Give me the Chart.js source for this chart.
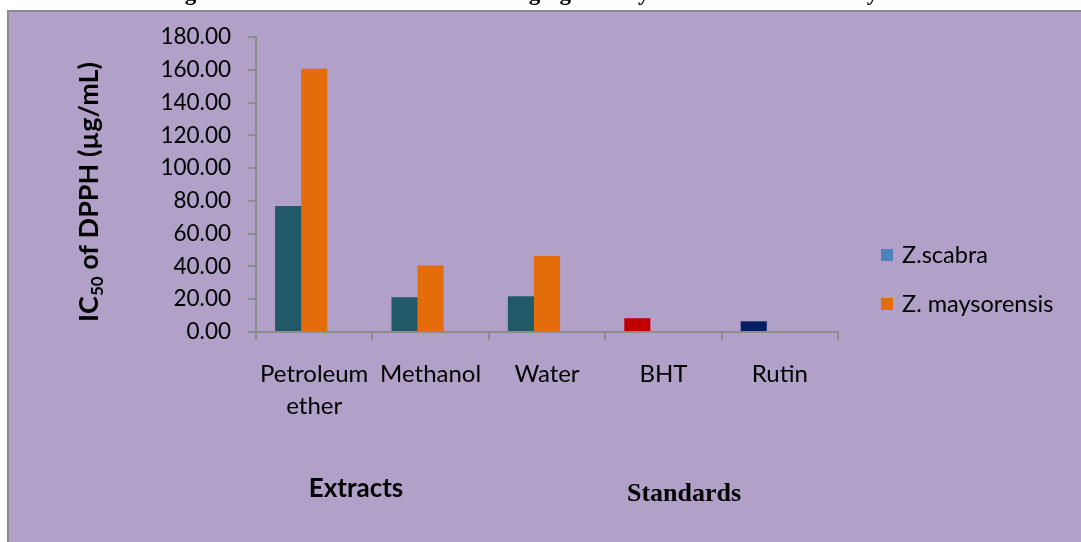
<!DOCTYPE html>
<html>
<head>
<meta charset="utf-8">
<script src="https://cdn.jsdelivr.net/npm/chart.js@4.4.1/dist/chart.umd.min.js"></script>
<style>
  html, body { margin: 0; padding: 0; background: #ffffff; }
  #wrap { position: relative; width: 1081px; height: 542px; }
  canvas { display: block; }
</style>
</head>
<body>
<div id="wrap"><canvas id="c" width="1081" height="542"></canvas></div>
<script>
// Categories (extracts first, then reference standards)
const categories = [['Petroleum', 'ether'], 'Methanol', 'Water', 'BHT', 'Rutin'];

// IC50 values (µg/mL)
const zScabra = [76.9, 21.2, 21.8, 8.4, 6.5];
const zMaysorensis = [160.6, 40.6, 46.3, null, null];
// empty third slot in each group (keeps the Excel-style group spacing)
const emptySlot = [null, null, null, null, null];

const seriesNames = ['Z.scabra', 'Z. maysorensis'];
const legendColors = ['#4F81BD', '#E46C0A'];
const scabraBarColors = ['#215968', '#215968', '#215968', '#C00000', '#002060'];

const yTicks = [0, 20, 40, 60, 80, 100, 120, 140, 160, 180];

const docTitle = 'Figure 4.1: DPPH free radical scavenging activity of Z.scabra and Z.maysorensis';
const groupLabels = ['Extracts', 'Standards'];

const AXIS_GREY = '#8C8C8C';
const PANEL = '#B1A0C7';

// page background, panel and frame, plus the caption line running off the top edge
const backdrop = {
  id: 'backdrop',
  beforeDraw(chart) {
    const ctx = chart.ctx;
    ctx.save();
    ctx.fillStyle = '#ffffff';
    ctx.fillRect(0, 0, chart.width, chart.height);
    ctx.fillStyle = '#000000';
    ctx.font = 'bold 23px "Liberation Serif", "DejaVu Serif", serif';
    ctx.textAlign = 'center';
    ctx.textBaseline = 'alphabetic';
    ctx.fillText(docTitle, 560, 0);
    ctx.fillStyle = PANEL;
    ctx.fillRect(8, 10, chart.width - 8, chart.height - 10);
    ctx.fillStyle = AXIS_GREY;
    ctx.fillRect(7, 10, chart.width - 7, 2);
    ctx.fillRect(7, 10, 2, chart.height - 10);
    ctx.restore();
  }
};

// y title with subscript, group labels and the legend
const annotations = {
  id: 'annotations',
  afterDraw(chart) {
    const ctx = chart.ctx;
    ctx.save();
    // rotated y title: IC50 of DPPH (µg/mL)
    const big = 'bold 27px Lato, "Open Sans", sans-serif';
    const small = 'bold 17px Lato, "Open Sans", sans-serif';
    const parts = [['IC', big, 0], ['50', small, 5], [' of DPPH (µg/mL)', big, 0]];
    let total = 0;
    parts.forEach(p => { ctx.font = p[1]; total += ctx.measureText(p[0]).width; });
    ctx.translate(98, 192);
    ctx.rotate(-Math.PI / 2);
    ctx.fillStyle = '#000000';
    ctx.textBaseline = 'alphabetic';
    ctx.textAlign = 'left';
    let x = -total / 2;
    parts.forEach(p => {
      ctx.font = p[1];
      ctx.fillText(p[0], x, p[2]);
      x += ctx.measureText(p[0]).width;
    });
    ctx.setTransform(1, 0, 0, 1, 0, 0);

    // group labels below the axis
    ctx.textAlign = 'center';
    ctx.textBaseline = 'alphabetic';
    ctx.font = 'bold 26px Lato, "Open Sans", sans-serif';
    ctx.fillText(groupLabels[0], 356, 497);
    ctx.font = 'bold 26px "Liberation Serif", "DejaVu Serif", serif';
    ctx.fillText(groupLabels[1], 684, 501);

    // legend
    ctx.textAlign = 'left';
    ctx.textBaseline = 'middle';
    ctx.font = '23.5px Lato, "Open Sans", sans-serif';
    const rows = [255, 304];
    seriesNames.forEach((name, i) => {
      ctx.fillStyle = legendColors[i];
      ctx.fillRect(881, rows[i] - 6, 12, 12);
      ctx.fillStyle = '#000000';
      ctx.fillText(name, 902, rows[i]);
    });
    ctx.restore();
  }
};

new Chart(document.getElementById('c'), {
  type: 'bar',
  data: {
    labels: categories,
    datasets: [
      { label: seriesNames[0], data: zScabra, backgroundColor: scabraBarColors, borderWidth: 0 },
      { label: seriesNames[1], data: zMaysorensis, backgroundColor: legendColors[1], borderWidth: 0 },
      { label: '', data: emptySlot, backgroundColor: 'rgba(0,0,0,0)', borderWidth: 0 }
    ]
  },
  options: {
    responsive: false,
    animation: false,
    devicePixelRatio: 1,
    layout: { padding: { left: 0, top: 37, right: 243, bottom: 0 } },
    datasets: { bar: { categoryPercentage: 0.672, barPercentage: 1.0 } },
    plugins: {
      legend: { display: false },
      tooltip: { enabled: false },
      title: { display: false }
    },
    scales: {
      x: {
        offset: true,
        grid: {
          display: true,
          offset: true,
          drawOnChartArea: false,
          drawTicks: true,
          tickLength: 8,
          color: AXIS_GREY,
          lineWidth: 2
        },
        border: { display: true, color: AXIS_GREY, width: 2 },
        ticks: {
          color: '#000000',
          font: { family: 'Lato, "Open Sans", sans-serif', size: 24, lineHeight: 1.35 },
          padding: 18,
          maxRotation: 0,
          autoSkip: false
        },
        afterFit(scale) { scale.height = 210; }
      },
      y: {
        min: 0,
        max: 180,
        afterBuildTicks(scale) { scale.ticks = yTicks.map(v => ({ value: v })); },
        grid: {
          display: true,
          drawOnChartArea: false,
          drawTicks: true,
          tickLength: 8,
          color: AXIS_GREY,
          lineWidth: 2
        },
        border: { display: true, color: AXIS_GREY, width: 2 },
        ticks: {
          color: '#000000',
          font: { family: 'Lato, "Open Sans", sans-serif', size: 22.5 },
          padding: 17,
          callback: v => Number(v).toFixed(2)
        },
        afterFit(scale) { scale.width = 256; }
      }
    }
  },
  plugins: [backdrop, annotations]
});
</script>
</body>
</html>
